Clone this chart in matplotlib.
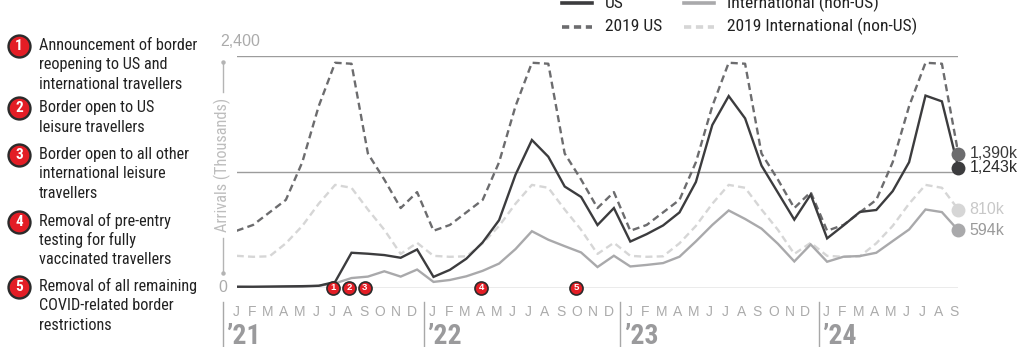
import numpy as np
import matplotlib
matplotlib.use("Agg")
import matplotlib.pyplot as plt
from matplotlib.lines import Line2D
from matplotlib.transforms import blended_transform_factory
from matplotlib import font_manager
from matplotlib.font_manager import FontProperties

W, H, DPI = 1017, 347, 100

REGULAR = ['Liberation Sans', 'DejaVu Sans']


def has_font(name):
    try:
        font_manager.findfont(FontProperties(family=name), fallback_to_default=False)
        return True
    except ValueError:
        return False


# prefer a condensed face for the annotation text; fall back to a smaller regular one
narrow_name = next((f for f in ['Roboto Condensed', 'Liberation Sans Narrow',
                                'Open Sans Condensed', 'DejaVu Sans Condensed']
                    if has_font(f)), None)
NARROW = [narrow_name, 'DejaVu Sans'] if narrow_name else REGULAR

# ---- data (thousands of arrivals, monthly, Jan 2021 - Sep 2024) ----
month_letters = list("JFMAMJJASOND")
year_labels = ["\u201921", "\u201922", "\u201923", "\u201924"]

us_2021 = [10, 10, 12, 14, 16, 20, 60, 362, 352, 338, 310, 396]
us_2022 = [112, 185, 300, 470, 700, 1170, 1530, 1357, 1048, 940, 649, 825]
us_2023 = [478, 555, 645, 780, 1095, 1685, 1985, 1754, 1265, 985, 705, 965]
us_2024 = [511, 645, 785, 805, 1000, 1300, 1990, 1930, 1243]

intl_2021 = [8, 6, 6, 8, 10, 20, 45, 100, 115, 170, 115, 188]
intl_2022 = [60, 80, 118, 175, 250, 400, 585, 497, 430, 365, 214, 331]
intl_2023 = [220, 236, 255, 321, 480, 650, 800, 712, 612, 455, 272, 448]
intl_2024 = [269, 321, 328, 362, 483, 603, 810, 783, 594]

# 2019 reference year, repeated under each year for comparison
us_2019 = [590, 650, 780, 910, 1300, 1880, 2330, 2320, 1390, 1120, 825, 990]
intl_2019 = [330, 320, 325, 460, 640, 870, 1065, 1035, 810, 600, 350, 465]

# policy milestones (position in months from Jan 2021)
event_ids = ["1", "2", "3", "4", "5"]
event_pos = [5.85, 6.85, 7.8, 14.9, 20.7]
event_text = [
    ["Announcement of border", "reopening to US and", "international travellers"],
    ["Border open to US", "leisure travellers"],
    ["Border open to all other", "international leisure", "travellers"],
    ["Removal of pre-entry", "testing for fully", "vaccinated travellers"],
    ["Removal of all remaining", "COVID-related border", "restrictions"],
]

us = np.array(us_2021 + us_2022 + us_2023 + us_2024, dtype=float)
intl = np.array(intl_2021 + intl_2022 + intl_2023 + intl_2024, dtype=float)
n = len(us)
us19 = np.tile(us_2019, 4)[:n]
intl19 = np.tile(intl_2019, 4)[:n]
x = np.arange(n)

C_US, C_US19 = "#3c3c3e", "#6c6c6e"
C_IN, C_IN19 = "#a9a9ab", "#d6d6d6"
RED = "#e31d25"


def fx(px):
    return px / W


def fy(py):
    return 1 - py / H


fig = plt.figure(figsize=(W / DPI, H / DPI), dpi=DPI)
ax = fig.add_axes([fx(236.7), fy(287.7), (958.3 - 236.7) / W, (287.7 - 56) / H])
ax.set_xlim(0, n - 1)
ax.set_ylim(0, 2400)
ax.axis("off")

for v in (0, 1200, 2400):
    ax.axhline(v, color="#9c9c9c", lw=1.0, zorder=1)

dash = (0, (3.0, 1.8))
ax.plot(x, intl19, color=C_IN19, lw=1.7, ls=dash, zorder=2)
ax.plot(x, intl, color=C_IN, lw=1.7, zorder=3, solid_joinstyle="miter")
ax.plot(x, us19, color=C_US19, lw=1.7, ls=dash, zorder=4)
ax.plot(x, us, color=C_US, lw=1.7, zorder=5, solid_joinstyle="miter")

# end-of-series dots and value labels
ends = [(us19[-1], C_US19, "#3a3a3a"), (us[-1], C_US, "#2a2a2a"),
        (intl19[-1], C_IN19, "#c8c8c8"), (intl[-1], C_IN, "#9a9a9a")]
for val, dc, tc in ends:
    ax.plot([x[-1]], [val], "o", ms=10, color=dc, mec="none", clip_on=False, zorder=6)
    ax.annotate(f"{int(round(val)):,}k", (x[-1], val), xytext=(8, 0),
                textcoords="offset points", va="center", ha="left",
                fontsize=11.5, color=tc, family=REGULAR, annotation_clip=False)

# milestone markers on the zero line
for eid, ep in zip(event_ids, event_pos):
    ax.plot([ep], [0], "o", ms=9.4, mfc=RED, mec="#2b2b2b", mew=1.2,
            clip_on=False, zorder=8)
    ax.text(ep, 0, eid, ha="center", va="center", color="white", fontsize=6.8,
            fontweight="bold", family=REGULAR, zorder=9, clip_on=False)

# month letters, year separators and year labels
bt = blended_transform_factory(ax.transData, fig.transFigure)
for i in range(n):
    yr, m = divmod(i, 12)
    ax.text(12 * yr - 0.05 + m * 0.975, fy(312), month_letters[m], transform=bt,
            ha="center", va="center", fontsize=10, color="#ababab", family=REGULAR)
seps = [-0.85, 11.4, 23.4, 35.5]
for s, lab in zip(seps, year_labels):
    fig.add_artist(Line2D([s, s], [fy(302), fy(347)], transform=bt,
                          color="#a8a8a8", lw=1.0))
    ax.text(s + 0.22, fy(344), lab, transform=bt, ha="left", va="baseline",
            fontsize=20, fontweight="bold", color="#9a9a9c", family=NARROW)

# y-axis indicator
ax_x = 222.7
for y0, y1 in ((62, 92), (238, 273)):
    fig.add_artist(Line2D([fx(ax_x), fx(ax_x)], [fy(y0), fy(y1)],
                          transform=fig.transFigure, color="#b4b4b4", lw=1.0))
for yy in (62, 273):
    fig.add_artist(Line2D([fx(ax_x)], [fy(yy)], transform=fig.transFigure,
                          marker="o", ms=3.2, color="#b4b4b4", mec="none"))
fig.text(fx(ax_x), fy(165), "Arrivals (Thousands)", rotation=90, ha="center",
         va="center", fontsize=11.8 if narrow_name else 10, color="#bdbdbd",
         family=NARROW)
fig.text(fx(220), fy(42), "2,400", ha="left", va="center", fontsize=11.5,
         color="#ababab", family=REGULAR)
fig.text(fx(223), fy(288), "0", ha="center", va="center", fontsize=11.5,
         color="#ababab", family=REGULAR)

# legend
leg_fs = 12.6 if narrow_name else 11.2
leg_rows = [
    (3, [(C_US, "-", "US", 561.7), (C_IN, "-", "International (non-US)", 684)]),
    (26.7, [(C_US19, (0, (2.0, 1.3)), "2019 US", 561.7),
            (C_IN19, (0, (2.0, 1.3)), "2019 International (non-US)", 684)]),
]
for yy, items in leg_rows:
    for col, ls, lab, x0 in items:
        fig.add_artist(Line2D([fx(x0), fx(x0 + 30)], [fy(yy), fy(yy)],
                              transform=fig.transFigure, color=col, lw=2.6, ls=ls))
        fig.text(fx(x0 + 43), fy(yy), lab, ha="left", va="center",
                 fontsize=leg_fs, color="#222222", family=NARROW)

# milestone legend on the left
ann_fs = 11.7 if narrow_name else 11.0
marker_y = [46, 108.3, 155, 221.7, 286.7]
line_gap = 19.4
for eid, my, lines in zip(event_ids, marker_y, event_text):
    fig.add_artist(Line2D([fx(19)], [fy(my)], transform=fig.transFigure,
                          marker="o", ms=15.8, mfc=RED, mec="#2b2b2b", mew=1.7))
    fig.text(fx(19), fy(my), eid, ha="center", va="center", color="white",
             fontsize=11, fontweight="bold", family=NARROW)
    for k, line in enumerate(lines):
        fig.text(fx(39), fy(my - 2 + k * line_gap + 6), line, ha="left",
                 va="baseline", fontsize=ann_fs, color="#222222", family=NARROW)

fig.savefig("out.png", dpi=DPI)
